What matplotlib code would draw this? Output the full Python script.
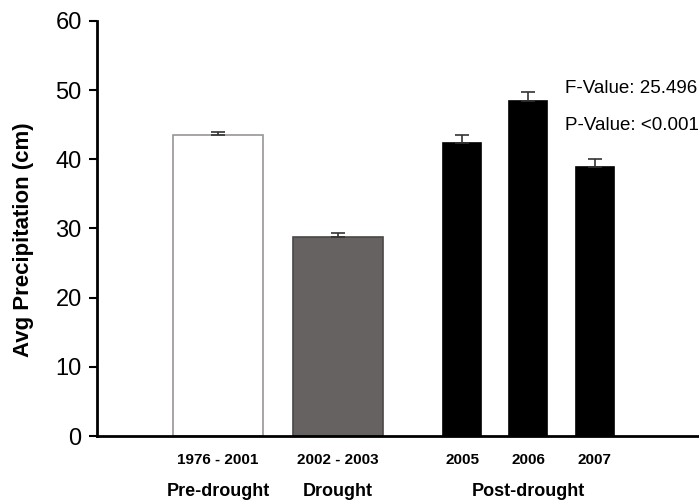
import matplotlib
matplotlib.use('Agg')
import matplotlib.pyplot as plt

plt.rcParams['font.family'] = ['Liberation Sans', 'DejaVu Sans']

# data
periods = ['1976 - 2001', '2002 - 2003', '2005', '2006', '2007']
precip = [43.5, 28.7, 42.4, 48.4, 38.9]
errs = [0.5, 0.7, 1.1, 1.3, 1.1]
groups = ['Pre-drought', 'Drought', 'Post-drought']
stats = ['F-Value: 25.496', 'P-Value: <0.001']

# layout (axis x units ~ pixels from left spine)
xpos = [121, 241, 365, 431, 497.5]
widths = [90, 90, 38, 38, 38]
faces = ['white', '#656261', 'black', 'black', 'black']
edges = ['#9a9595', '#4a4747', 'black', 'black', 'black']
group_x = [121, 241, 431]

fig = plt.figure(figsize=(6.99, 5.03), dpi=100)
ax = fig.add_axes([0.1388, 0.1332, 0.8612, 0.8251])

for i in range(len(periods)):
    ax.bar(xpos[i], precip[i], width=widths[i], color=faces[i],
           edgecolor=edges[i], linewidth=1.2, zorder=2)
    ax.errorbar(xpos[i], precip[i], yerr=[[0], [errs[i]]], fmt='none',
                ecolor='#333333', elinewidth=1.2, capsize=5, capthick=1.2, zorder=3)

ax.set_xlim(0, 602)
ax.set_ylim(0, 60)
ax.set_yticks(range(0, 61, 10))
ax.set_xticks(xpos)
ax.set_xticklabels(periods, fontsize=11, fontweight='bold')
ax.tick_params(axis='x', length=0, pad=12)
ax.tick_params(axis='y', length=6, width=1.5, labelsize=17, pad=5, direction='out')

for s in ['top', 'right']:
    ax.spines[s].set_visible(False)
for s in ['left', 'bottom']:
    ax.spines[s].set_linewidth(2)

ax.set_ylabel('Avg Precipitation (cm)', fontsize=16, fontweight='bold')
ax.yaxis.set_label_coords(-0.105, 0.472)

for gx, g in zip(group_x, groups):
    ax.text(gx, -8.0, g, ha='center', va='center', fontsize=13,
            fontweight='bold', clip_on=False)

ax.text(468, 50.2, stats[0], fontsize=13.5, va='center')
ax.text(468, 44.9, stats[1], fontsize=13.5, va='center')

fig.savefig('out.png', dpi=100)
